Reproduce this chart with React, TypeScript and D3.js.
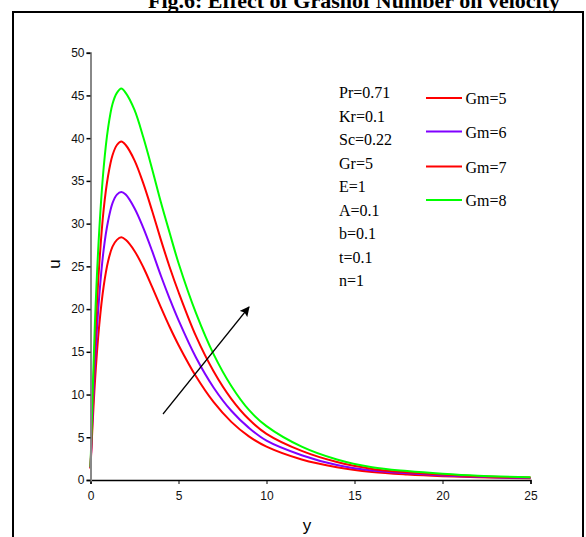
import React, { useEffect, useRef } from "react";
import * as d3 from "d3";

const WIDTH = 586;
const HEIGHT = 537;
const MARGIN = { top: 52.7, right: 55, bottom: 57, left: 90.5 };

// sample positions along y
const yPoints = [0, 0.25, 0.5, 0.75, 1, 1.25, 1.5, 1.75, 2, 2.5, 3, 3.5, 4, 4.5, 5, 6, 7, 8, 9, 10, 12, 14, 16, 18, 20, 22, 25];

const gm5 = [1.4, 11.4, 18.2, 22.7, 25.6, 27.3, 28.1, 28.4, 28.1, 26.8, 24.9, 22.6, 20.2, 17.9, 15.8, 12.1, 9.1, 6.8, 5.1, 3.9, 2.4, 1.5, 0.95, 0.65, 0.45, 0.32, 0.2];
const gm6 = [1.4, 13.5, 21.6, 27.0, 30.3, 32.4, 33.4, 33.7, 33.4, 31.8, 29.5, 26.8, 23.9, 21.2, 18.7, 14.3, 10.8, 8.1, 6.1, 4.6, 2.9, 1.75, 1.1, 0.78, 0.54, 0.37, 0.24];
const gm7 = [1.3, 15.8, 25.3, 31.7, 35.6, 38.0, 39.2, 39.6, 39.2, 37.4, 34.7, 31.5, 28.1, 24.9, 22.0, 16.8, 12.7, 9.5, 7.1, 5.4, 3.4, 2.1, 1.3, 0.9, 0.63, 0.44, 0.28];
const gm8 = [1.5, 18.3, 29.3, 36.6, 41.2, 44.0, 45.3, 45.8, 45.3, 43.3, 40.1, 36.4, 32.5, 28.9, 25.4, 19.5, 14.7, 11.0, 8.2, 6.3, 3.9, 2.4, 1.5, 1.05, 0.73, 0.5, 0.32];

const seriesNames = ["Gm=5", "Gm=6", "Gm=7", "Gm=8"];
const seriesColors = ["#ff0000", "#8000ff", "#ff0000", "#00ff00"];
const seriesValues = [gm5, gm6, gm7, gm8];

const params = ["Pr=0.71", "Kr=0.1", "Sc=0.22", "Gr=5", "E=1", "A=0.1", "b=0.1", "t=0.1", "n=1"];

const xTicks = [0, 5, 10, 15, 20, 25];
const yTicks = [0, 5, 10, 15, 20, 25, 30, 35, 40, 45, 50];

const App = () => {
    const axesRef = useRef(null);
    const boundsWidth = 530.5 - MARGIN.left;
    const boundsHeight = 480 - MARGIN.top;

    const xScale = d3.scaleLinear().domain([0, 25]).range([0, boundsWidth]);
    const yScale = d3.scaleLinear().domain([0, 50]).range([boundsHeight, 0]);

    // Axes through d3
    useEffect(() => {
        const g = d3.select(axesRef.current);
        g.selectAll("*").remove();

        const xAxis = g.append("g").attr("transform", "translate(0," + boundsHeight + ")");
        xAxis.call(d3.axisBottom(xScale).tickValues(d3.range(0, 26, 1)).tickSize(3).tickFormat(() => ""));
        xAxis.call(d3.axisBottom(xScale).tickValues(xTicks).tickSize(4).tickFormat(d3.format("d")));
        xAxis.selectAll(".domain").attr("stroke", "#000").attr("stroke-width", 1.5);
        xAxis.selectAll("text")
            .attr("font-family", "'Liberation Sans Narrow', Arial, sans-serif")
            .attr("font-size", 12)
            .attr("fill", "#111")
            .attr("dy", "1.05em");

        const yAxis = g.append("g");
        yAxis.call(d3.axisLeft(yScale).tickValues(d3.range(0, 51, 2.5)).tickSize(3).tickFormat(() => ""));
        yAxis.call(d3.axisLeft(yScale).tickValues(yTicks).tickSize(4).tickFormat(d3.format("d")));
        yAxis.selectAll(".domain").attr("stroke", "#888").attr("stroke-width", 2);
        yAxis.selectAll("line").attr("stroke", "#000").attr("stroke-width", 1.5);
        yAxis.selectAll("text")
            .attr("font-family", "'Liberation Sans Narrow', Arial, sans-serif")
            .attr("font-size", 12)
            .attr("fill", "#111")
            .attr("x", -6);
    }, [xScale, yScale, boundsHeight]);

    const lineBuilder = d3.line<number>()
        .x((_, i) => xScale(yPoints[i]))
        .y((d) => yScale(d))
        .curve(d3.curveCatmullRom.alpha(0.5));

    const legendX = 426;
    const legendY = [98, 131.5, 166.5, 200];

    return (
        <svg width={WIDTH} height={HEIGHT} style={{ position: "absolute", left: 0, top: 0, background: "#fff" }}>
            <rect x={13} y={12} width={570} height={540} fill="none" stroke="#000" strokeWidth={2} />
            <text x={354} y={8} textAnchor="middle" fontFamily="'Liberation Serif', 'Times New Roman', serif" fontWeight="bold" fontSize={22}>
                Fig.6: Effect of Grashof Number on velocity
            </text>
            <g transform={`translate(${MARGIN.left},${MARGIN.top})`}>
                {seriesValues.map((vals, i) => (
                    <path key={i} d={lineBuilder(vals) || ""} fill="none" stroke={seriesColors[i]} strokeWidth={2} />
                ))}
            </g>
            <g ref={axesRef} transform={`translate(${MARGIN.left},${MARGIN.top})`} />
            <text x={307} y={531} textAnchor="middle" fontFamily="Arial, 'Liberation Sans', sans-serif" fontSize={17}>y</text>
            <text transform="translate(60,264) rotate(-90)" textAnchor="middle" fontFamily="Arial, 'Liberation Sans', sans-serif" fontSize={17}>u</text>
            {params.map((p, i) => (
                <text key={p} x={339} y={98 + i * 23.5} fontFamily="'Liberation Serif', 'Times New Roman', serif" fontSize={16}>{p}</text>
            ))}
            {seriesNames.map((name, i) => (
                <g key={name}>
                    <line x1={legendX} x2={legendX + 36} y1={legendY[i]} y2={legendY[i]} stroke={seriesColors[i]} strokeWidth={2} />
                    <text x={465.5} y={legendY[i] + 6} fontFamily="'Liberation Serif', 'Times New Roman', serif" fontSize={16}>{name}</text>
                </g>
            ))}
            <defs>
                <marker id="arrowHead" viewBox="0 0 10 10" refX={9} refY={5} markerWidth={10} markerHeight={10} markerUnits="userSpaceOnUse" orient="auto">
                    <path d="M0,0 L10,5 L0,10 L2,5 Z" fill="#000" />
                </marker>
            </defs>
            <line x1={163} y1={414} x2={249} y2={307} stroke="#000" strokeWidth={1.2} markerEnd="url(#arrowHead)" />
        </svg>
    );
};

export default App;
